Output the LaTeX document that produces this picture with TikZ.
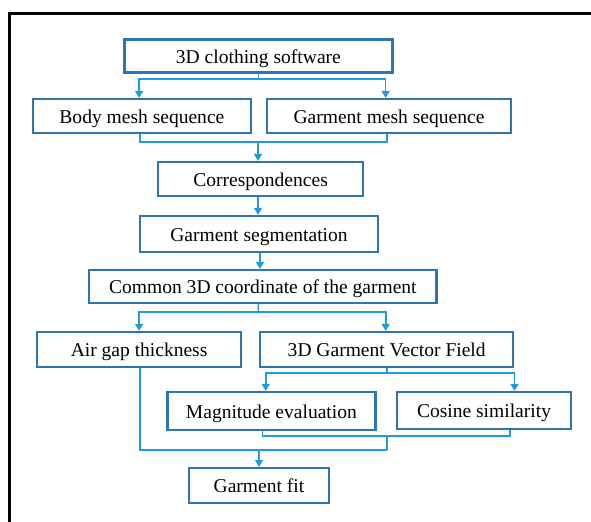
\documentclass[tikz,border=0pt]{standalone}
\usepackage{fontspec}
\setmainfont{Liberation Serif}
\usetikzlibrary{arrows.meta,calc}
\definecolor{boxblue}{HTML}{2E75B6}
\definecolor{linkblue}{HTML}{1F9BDE}
\tikzset{
  box/.style={draw=boxblue, line width=2.2bp, fill=white, inner sep=0pt,
    text height=15bp, text depth=0.5bp,
    font=\fontsize{19.6}{22}\selectfont, anchor=center},
  link/.style={draw=linkblue, line width=1.6bp},
  arr/.style={link, -{Triangle[width=8bp,length=7bp]}},
}
\begin{document}
\begin{tikzpicture}[x=1bp,y=-1bp]
\useasboundingbox (0,0) rectangle (591,522);
\draw[line width=3bp] (9.5,522) -- (9.5,13.5) -- (591,13.5);

\node[box, minimum width=268bp, minimum height=33bp] (sw) at (258.4,56) {3D clothing software};
\node[box, minimum width=218bp, minimum height=34bp] (body) at (141.9,116) {Body mesh sequence};
\node[box, minimum width=244bp, minimum height=34bp] (gms) at (389,116) {Garment mesh sequence};
\node[box, minimum width=205bp, minimum height=34bp] (corr) at (260.6,179) {Correspondences};
\node[box, minimum width=237.5bp, minimum height=36bp] (seg) at (259,234) {Garment segmentation};
\node[box, minimum width=347bp, minimum height=33bp] (common) at (262.9,286.5) {Common 3D coordinate of the garment};
\node[box, minimum width=203.5bp, minimum height=35bp] (air) at (139.1,349.5) {Air gap thickness};
\node[box, minimum width=253bp, minimum height=35bp] (gvf) at (386.7,349.5) {3D Garment Vector Field};
\node[box, minimum width=208bp, minimum height=38bp] (mag) at (271.4,411) {Magnitude evaluation};
\node[box, minimum width=174bp, minimum height=37bp] (cos) at (484,410.5) {Cosine similarity};
\node[box, minimum width=140bp, minimum height=35bp] (fit) at (259,485.5) {Garment fit};

% 3D clothing software -> body / garment mesh
\coordinate (j1) at (258.4,79);
\draw[link] (sw.south) -- (j1);
\draw[arr] (j1) -| ([xshift=-2.8bp]body.north);
\draw[arr] (j1) -| ([xshift=-3.4bp]gms.north);

% body / garment mesh -> correspondences
\coordinate (j2) at (258,142);
\draw[link] ([xshift=-1.7bp]body.south) |- (j2);
\draw[link] ([xshift=-2.3bp]gms.south) |- (j2);
\draw[arr] (j2) -- ([xshift=-2.6bp]corr.north);

\draw[arr] ([xshift=-2.6bp]corr.south) -- ([xshift=-1bp]seg.north);
\draw[arr] ([xshift=1bp]seg.south) -- ([xshift=-3bp]common.north);

% common -> air gap / GVF
\coordinate (j3) at (258.4,312);
\draw[link] ([xshift=-4.5bp]common.south) -- (j3);
\draw[arr] (j3) -| (air.north);
\draw[arr] (j3) -| ([xshift=-1bp]gvf.north);

% GVF -> magnitude / cosine
\coordinate (j4) at (386.7,373);
\draw[link] (gvf.south) -- (j4);
\draw[arr] (j4) -| ([xshift=-5.7bp]mag.north);
\draw[arr] (j4) -| ([xshift=30.5bp]cos.north);

% magnitude / cosine -> merge
\coordinate (j5) at (386.7,436);
\draw[link] ([xshift=-9bp]mag.south) |- (j5);
\draw[link] ([xshift=26bp]cos.south) |- (j5);
\coordinate (j6) at (386.7,450);
\draw[link] (j5) -- (j6);
\draw[link] ([xshift=1bp]air.south) |- (j6);
\coordinate (j7) at (259,450);
\draw[arr] (j7) -- (fit.north);
\end{tikzpicture}
\end{document}
